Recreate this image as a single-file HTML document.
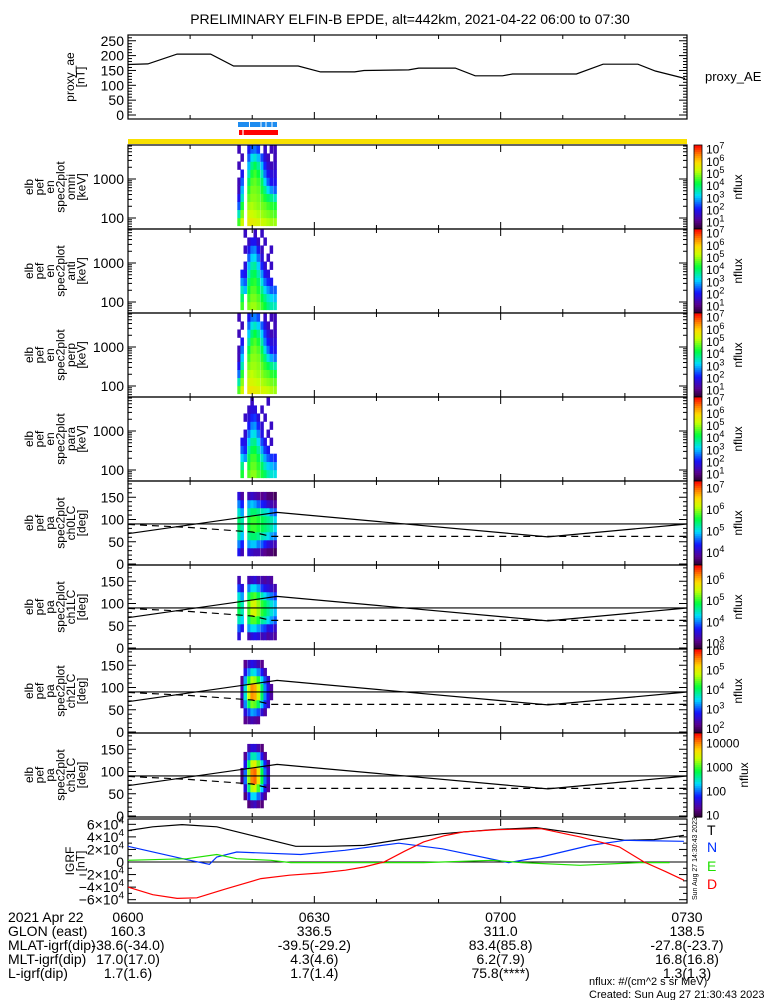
<!DOCTYPE html>
<html><head><meta charset="utf-8"><style>
html,body{margin:0;padding:0;background:#fff;}
svg{display:block;font-family:"Liberation Sans",sans-serif;}
text{font-size:12px;fill:#000;}
</style></head><body>
<svg id="chart" width="775" height="1000" viewBox="0 0 775 1000" xmlns="http://www.w3.org/2000/svg">
<text x="410" y="24" text-anchor="middle" style="font-size:14px">PRELIMINARY ELFIN-B EPDE, alt=442km, 2021-04-22 06:00 to 07:30</text>
</svg>
<script>
const N=null;
// proxy AE (minutes after 06:00, nT)
const aeMin=[0,3.2,7.9,13.3,17,27.4,31,36.5,38,45.2,46.8,52.7,55.9,60.3,61.9,72.2,76.5,82.1,84.9,89.7];
const aeVal=[170,172,205,205,165,165,145,145,150,152,158,158,132,132,138,138,171,171,148,123];
// spectrogram bins
const spStart=[17.6,18.1,18.6,19.2,19.7,20.2,20.7,21.3,21.8,22.3,22.8,23.4];
const spWidth=0.52;
const enEdges=[63,101,163,262,421,677,1090,1750,2820,4530,7280];
const paEdges=[0,18,36,54,72,90,108,126,144,162,180];
const omni=[
[4.5,5.3,N,5.6,5.6,5.5,5.4,5.3,5.2,5.1,5.0,5.0],
[3.5,4.8,N,5.3,5.3,5.2,5.1,5.0,4.9,4.8,4.7,4.6],
[2.5,4.3,N,5.0,5.1,5.0,4.9,4.8,4.7,4.5,4.4,4.3],
[2.0,3.5,N,4.7,4.9,4.9,4.8,4.6,4.3,4.0,3.8,3.5],
[1.5,3.0,N,4.4,4.8,4.8,4.7,4.3,3.8,3.2,2.8,2.5],
[1.5,2.5,N,4.0,4.6,4.7,4.5,4.0,3.2,2.5,2.0,2.0],
[N,2.0,N,3.5,4.3,4.5,4.2,3.5,2.6,2.0,1.8,1.8],
[1.5,N,N,3.0,3.8,4.1,3.7,3.0,2.2,1.7,1.5,1.6],
[N,1.5,N,2.5,3.2,3.4,3.0,2.4,1.8,1.5,N,1.5],
[1.5,N,N,2.0,2.5,2.6,2.3,N,1.6,N,1.5,1.5]];
const anti=[
[N,4.5,N,4.8,5.0,5.0,4.8,4.5,4.2,3.8,3.6,3.5],
[N,4.0,N,4.5,4.8,4.8,4.6,4.2,3.8,3.4,3.2,3.0],
[N,3.5,3.0,4.2,4.6,4.6,4.3,3.8,3.2,2.8,2.5,2.5],
[N,2.8,2.5,3.9,4.3,4.4,4.0,3.3,2.6,2.2,2.0,N],
[N,2.2,2.0,3.5,4.0,4.1,3.6,2.8,2.0,1.8,N,N],
[N,N,1.8,3.0,3.6,3.7,3.1,2.2,1.7,N,1.6,N],
[N,N,N,2.5,3.1,3.2,2.6,1.8,N,1.6,N,N],
[N,N,1.6,2.0,2.6,2.7,2.0,1.6,N,N,1.6,N],
[N,N,N,1.6,2.0,2.0,1.6,N,1.6,N,N,N],
[N,N,1.6,N,N,1.6,N,1.6,N,N,N,N]];
const perp=[
[4.6,5.4,N,5.7,5.7,5.6,5.5,5.4,5.3,5.2,5.1,5.0],
[3.6,4.9,N,5.4,5.4,5.3,5.2,5.1,5.0,4.9,4.8,4.7],
[2.6,4.4,N,5.1,5.2,5.1,5.0,4.9,4.7,4.6,4.4,4.3],
[2.0,3.6,N,4.8,5.0,5.0,4.9,4.7,4.4,4.1,3.8,3.6],
[1.5,3.1,N,4.5,4.9,4.9,4.8,4.4,3.9,3.3,2.9,2.6],
[1.5,2.6,N,4.1,4.7,4.8,4.6,4.1,3.3,2.6,2.1,2.0],
[N,2.0,N,3.6,4.4,4.6,4.3,3.6,2.7,2.1,1.8,1.8],
[1.5,N,N,3.1,3.9,4.2,3.8,3.1,2.3,1.8,1.5,1.6],
[N,1.5,N,2.6,3.3,3.5,3.1,2.5,1.9,1.5,N,1.5],
[1.5,N,N,2.0,2.6,2.7,2.4,N,1.6,N,1.5,1.5]];
const para=[
[N,4.3,N,4.6,4.9,4.9,4.6,4.3,4.0,3.6,3.4,3.3],
[N,3.8,N,4.3,4.7,4.7,4.4,4.0,3.5,3.1,3.0,2.8],
[N,3.2,2.8,4.0,4.5,4.5,4.1,3.5,2.9,2.5,2.3,2.2],
[N,2.5,2.2,3.6,4.1,4.2,3.7,2.9,2.3,2.0,N,N],
[N,2.0,1.9,3.1,3.7,3.8,3.2,2.4,1.9,N,1.6,N],
[N,N,1.7,2.6,3.2,3.3,2.7,1.9,N,1.6,N,N],
[N,N,N,2.1,2.7,2.8,2.2,1.7,N,N,1.6,N],
[N,N,1.6,1.8,2.2,2.3,1.8,N,1.6,N,N,N],
[N,N,N,1.6,1.8,1.8,N,1.6,N,N,N,N],
[N,N,N,N,1.6,N,N,N,N,1.6,N,N]];
const ch0=[
[N,N,N,N,N,N,N,N,N,N,N,N],
[4.3,4.0,N,4.2,4.1,4.0,4.0,3.9,3.8,3.7,3.7,3.6],
[4.7,4.4,N,4.8,4.9,4.9,4.7,4.6,4.4,4.2,4.1,4.0],
[5.2,4.9,N,5.3,5.4,5.4,5.3,5.2,5.1,5.0,4.8,4.7],
[5.4,5.2,N,5.5,5.7,5.7,5.6,5.5,5.4,5.3,5.2,5.0],
[5.4,5.2,N,5.5,5.7,5.7,5.6,5.5,5.4,5.3,5.2,5.0],
[5.1,4.8,N,5.2,5.4,5.4,5.3,5.2,5.1,5.0,4.7,4.6],
[4.7,4.4,N,4.8,4.9,4.8,4.6,4.4,4.3,4.1,4.0,3.9],
[4.2,3.9,N,4.0,4.1,4.0,3.9,3.8,3.9,3.7,3.7,3.6],
[N,N,N,N,N,N,N,N,N,N,N,N]];
const ch1=[
[N,N,N,N,N,N,N,N,N,N,N,N],
[3.5,N,N,3.3,3.5,3.6,3.5,3.3,3.4,3.2,3.3,3.2],
[3.9,3.6,N,4.1,4.3,4.3,4.1,3.9,3.8,3.5,3.6,3.4],
[4.5,4.3,N,4.7,5.1,5.1,4.9,4.6,4.5,4.3,4.1,3.9],
[4.8,4.5,N,5.1,5.5,5.6,5.3,5.0,4.8,4.6,4.4,4.2],
[4.8,4.5,N,5.1,5.5,5.6,5.3,5.0,4.8,4.6,4.4,4.2],
[4.4,4.1,N,4.7,5.0,5.1,4.8,4.5,4.3,4.1,4.0,3.8],
[3.8,3.5,N,4.0,4.3,4.3,4.1,3.8,3.6,3.5,3.4,3.3],
[3.3,N,N,3.3,3.4,3.5,3.3,3.3,3.2,3.3,3.2,N],
[N,N,N,N,N,N,N,N,N,N,N,N]];
const ch2=[
[N,N,N,N,N,N,N,N,N,N,N,N],
[N,N,2.2,2.3,2.4,2.3,2.2,N,N,N,N,N],
[N,N,2.6,3.0,3.3,3.2,3.0,2.6,2.3,N,N,N],
[N,2.2,3.2,4.0,4.5,4.4,4.0,3.4,2.9,2.5,N,N],
[N,2.4,3.6,4.8,5.5,5.4,4.8,4.0,3.2,2.7,2.3,N],
[N,2.4,3.6,4.8,5.5,5.4,4.8,4.0,3.2,2.7,2.3,N],
[N,2.2,3.3,4.2,4.7,4.6,4.2,3.5,3.0,2.5,N,N],
[N,N,2.7,3.2,3.6,3.5,3.2,2.8,2.4,N,N,N],
[N,N,2.2,2.5,2.7,2.6,2.4,2.2,N,N,N,N],
[N,N,N,N,N,N,N,N,N,N,N,N]];
const ch3=[
[N,N,N,N,N,N,N,N,N,N,N,N],
[N,N,N,1.2,1.4,1.5,1.3,1.2,N,N,N,N],
[N,N,1.2,1.8,2.3,2.3,2.0,1.6,1.3,N,N,N],
[N,N,1.6,2.6,3.3,3.4,3.0,2.3,1.7,1.3,N,N],
[N,1.2,2.0,3.2,4.0,4.1,3.6,2.8,2.0,1.5,N,N],
[N,1.2,2.0,3.2,4.0,4.1,3.6,2.8,2.0,1.5,N,N],
[N,N,1.7,2.7,3.4,3.5,3.1,2.4,1.8,1.3,N,N],
[N,N,1.3,2.0,2.5,2.5,2.2,1.7,1.3,N,N,N],
[N,N,N,1.4,1.6,1.6,1.4,1.2,N,N,N,N],
[N,N,N,N,N,N,N,N,N,N,N,N]];
// loss cone lines (deg)
const lcMin=[0,24,67.6,90];
const lcVal=[68,116,61,90];
const alcMin=[0,10,20,23,90];
const alcVal=[89,82,72,62,62];
// IGRF components (minutes, 1e3 nT)
const igT_m=[0,4,8.7,14.3,20,27,32,38,44,50.6,58.6,65.7,72.8,80,84.7,89.5];
const igT_v=[50,56,59.5,56,42,25,25,26.5,36,45,51.5,54.7,45,34.5,35.6,42.5];
const igN_m=[0,9.5,13.1,14.3,17.5,27.8,34.9,43.6,50.6,61.3,66.5,74.4,80,89.5];
const igN_v=[25,3.7,-3.7,8,16,12,18.6,30,21,-1,8,26.5,34.5,33];
const igE_m=[0,9.5,14.3,17.5,23,26.2,47.6,58.6,63.4,72.8,82.4,87.2];
const igE_v=[2.7,5.3,12,5.3,2.7,-1,-1,2.7,-1,-5.3,-1,-1];
const igD_m=[0,4,7.9,11.1,16,21.4,26,30.9,35,38,41.2,44.5,47.6,51,54,59.4,66.5,72.8,79.1,83.1,86.5,89.5];
const igD_v=[-40,-52,-58,-57,-42,-26.5,-21,-17.5,-13,-8,0,17,32,42,48,51.5,53,40,24,0,-15,-29];
const timeTicks=["0600","0630","0700","0730"];
const glon=["160.3","336.5","311.0","138.5"];
const mlat=["-38.6(-34.0)","-39.5(-29.2)","83.4(85.8)","-27.8(-23.7)"];
const mlt=["17.0(17.0)","4.3(4.6)","6.2(7.9)","16.8(16.8)"];
const lsh=["1.7(1.6)","1.7(1.4)","75.8(****)","1.3(1.3)"];

const svg=document.getElementById('chart');
const NS='http://www.w3.org/2000/svg';
const L=128,R=687;
function X(m){return L+m*(R-L)/90;}
function mk(tag,at,parent){const e=document.createElementNS(NS,tag);for(const k in at)e.setAttribute(k,at[k]);(parent||svg).appendChild(e);return e;}
function txt(s,x,y,anchor,size,fill){const t=mk('text',{x:x,y:y,'text-anchor':anchor||'start'});if(size)t.style.fontSize=size+'px';if(fill)t.style.fill=fill;t.textContent=s;return t;}
const stops=[[0,[40,0,40]],[0.1,[90,0,140]],[0.25,[20,20,255]],[0.4,[0,220,255]],[0.55,[0,255,60]],[0.7,[200,255,0]],[0.8,[255,220,0]],[0.9,[255,120,0]],[1,[255,0,0]]];
function cmap(t){t=Math.max(0,Math.min(1,t));for(let i=1;i<stops.length;i++){if(t<=stops[i][0]){const a=stops[i-1],b=stops[i];const f=(t-a[0])/(b[0]-a[0]);return 'rgb('+a[1].map((v,j)=>Math.round(v+(b[1][j]-v)*f)).join(',')+')';}}return 'rgb(255,0,0)';}

function frame(T,B,name){
  const r=mk('rect',{x:L,y:T,width:R-L,height:B-T,fill:'none',stroke:'#000','stroke-width':1.2});
  
  
  for(let m=0;m<=90;m+=10){const len=(m%30==0)?7:4;mk('line',{x1:X(m),x2:X(m),y1:B,y2:B-len,stroke:'#000'});mk('line',{x1:X(m),x2:X(m),y1:T,y2:T+len,stroke:'#000'});}
}
function polyline(ms,vs,yf,color,dash,name){
  const p=ms.map((m,i)=>X(m).toFixed(1)+','+yf(vs[i]).toFixed(1)).join(' ');
  const e=mk('polyline',{points:p,fill:'none',stroke:color,'stroke-width':1.2});
  if(dash)e.setAttribute('stroke-dasharray',dash);
  
  
  return e;
}
function ylabel(lines,cx,cy,name){
  const g=mk('g',{transform:'translate('+cx+','+cy+') rotate(-90)'});
  
  
  const n=lines.length;
  lines.forEach((s,i)=>{const t=mk('text',{x:0,y:(i-(n-1)/2)*10.5+4,'text-anchor':'middle'},g);t.textContent=s;});
}
function colorbar(T,B,lo,hi,labels,plain){
  const g=mk('g',{});
  
  
  const n=40;for(let i=0;i<n;i++){const y0=B-(i+1)*(B-T)/n;mk('rect',{x:694,y:y0,width:8,height:(B-T)/n+0.6,fill:cmap((i+0.5)/n),stroke:'none'},g);}
  mk('rect',{x:694,y:T,width:8,height:B-T,fill:'none',stroke:'#000','stroke-width':0.8},g);
  labels.forEach(e=>{const y=B-(e-lo)/(hi-lo)*(B-T)+5;const t=mk('text',{x:706,y:y},g);
    if(plain){t.textContent=String(Math.pow(10,e));}else{t.textContent='10';const s=mk('tspan',{dy:-5},t);s.style.fontSize='9px';s.textContent=String(e);}});
  const t=mk('text',{x:0,y:0,transform:'translate('+(plain?748:742)+','+((T+B)/2)+') rotate(-90)','text-anchor':'middle'},g);t.textContent='nflux';
}
function logTicks(T,B,lo,hi){
  for(let d=Math.floor(lo);d<=Math.ceil(hi);d++)for(let k=1;k<10;k++){const v=d+Math.log10(k);if(v<lo||v>hi)continue;const y=B-(v-lo)/(hi-lo)*(B-T);const len=k==1?8:4;
    mk('line',{x1:L,x2:L+len,y1:y,y2:y,stroke:'#000'});mk('line',{x1:R,x2:R-len,y1:y,y2:y,stroke:'#000'});}
}

// ===== proxy AE panel =====
const aeT=35,aeB=119;
function aeY(v){return 115-v*0.297;}
frame(aeT,aeB,'proxy-ae');
[0,50,100,150,200,250].forEach(v=>{const y=aeY(v);txt(String(v),124,y+5,'end',14);mk('line',{x1:L,x2:L+8,y1:y,y2:y,stroke:'#000'});mk('line',{x1:R,x2:R-8,y1:y,y2:y,stroke:'#000'});
  for(let k=1;k<5;k++){const yy=aeY(v+k*10);if(yy>aeT){mk('line',{x1:L,x2:L+4,y1:yy,y2:yy,stroke:'#000'});mk('line',{x1:R,x2:R-4,y1:yy,y2:yy,stroke:'#000'});}}});
polyline(aeMin,aeVal,aeY,'#000',null,'proxy-ae-line');
ylabel(['proxy_ae','[nT]'],75,77,'proxy-ae-axis-title');
txt('proxy_AE',705,81,'start',13);

// state bars
const b1=mk('rect',{x:238,y:122,width:39,height:5,fill:'#1e8cf0'});
[249.5,261,266,272].forEach(x=>mk('line',{x1:x,x2:x,y1:121,y2:128,stroke:'#fff','stroke-width':1}));
const b2=mk('rect',{x:239,y:130,width:39,height:5,fill:'#f00'});
mk('line',{x1:243,x2:243,y1:129,y2:136,stroke:'#fff','stroke-width':1.2});
const yb=mk('rect',{x:L,y:139,width:R-L,height:5,fill:'#f8e000'});

// ===== energy spectrograms =====
const specPanels=[[omni,'omni'],[anti,'anti'],[perp,'perp'],[para,'para']];
specPanels.forEach((p,pi)=>{
  const T=145+pi*84,B=T+84;const lo=1.718,hi=3.872;
  const eY=v=>B-(Math.log10(v)-lo)/(hi-lo)*(B-T);
  const g=mk('g',{});
  const cLo=0.4,cHi=7.3;
  p[0].forEach((row,ri)=>row.forEach((v,ci)=>{if(v===null)return;const x0=X(spStart[ci]),x1=X(spStart[ci]+spWidth);const y0=eY(enEdges[ri+1]),y1=eY(enEdges[ri]);
    const c=mk('rect',{x:x0,y:y0,width:x1-x0+0.3,height:y1-y0+0.3,fill:cmap((v-cLo)/(cHi-cLo))},g);
    }));
  frame(T,B,'spec-'+p[1]);logTicks(T,B,lo,hi);
  txt('1000',124,eY(1000)+5,'end',14);txt('100',124,eY(100)+5,'end',14);
  ylabel(['elb','pef','en','spec2plot',p[1],'[keV]'],55,(T+B)/2,'spec-'+p[1]+'-axis-title');
  colorbar(T,B,cLo,cHi,[1,2,3,4,5,6,7],false);
});

// ===== pitch angle panels =====
const paPanels=[[ch0,'ch0LC',3.4,7.3,[4,5,6,7],false],[ch1,'ch1LC',2.7,6.65,[3,4,5,6],false],[ch2,'ch2LC',1.75,6.05,[2,3,4,5,6],false],[ch3,'ch3LC',0.9,4.4,[1,2,3,4],true]];
paPanels.forEach((p,pi)=>{
  const T=481+pi*84,B=T+84;const pY=d=>B-1-d*0.445;
  const g=mk('g',{});
  p[0].forEach((row,ri)=>row.forEach((v,ci)=>{if(v===null)return;const x0=X(spStart[ci]),x1=X(spStart[ci]+spWidth);const y0=pY(paEdges[ri+1]),y1=pY(paEdges[ri]);
    const c=mk('rect',{x:x0,y:y0,width:x1-x0+0.3,height:y1-y0+0.3,fill:cmap((v-p[2])/(p[3]-p[2]))},g);
    }));
  frame(T,B,'pa-'+p[1]);
  for(let d=0;d<=180;d+=10){const y=pY(d);if(y<T)continue;const len=d%50==0?8:4;mk('line',{x1:L,x2:L+len,y1:y,y2:y,stroke:'#000'});mk('line',{x1:R,x2:R-len,y1:y,y2:y,stroke:'#000'});}
  [0,50,100,150].forEach(d=>txt(String(d),124,pY(d)+5,'end',14));
  const h=mk('line',{x1:L,x2:R,y1:pY(90),y2:pY(90),stroke:'#000','stroke-width':1.2});
  polyline(lcMin,lcVal,pY,'#000',null,'loss-cone-line');
  polyline(alcMin,alcVal,pY,'#000','7,5','anti-loss-cone-line');
  ylabel(['elb','pef','pa','spec2plot',p[1],'[deg]'],55,(T+B)/2,'pa-'+p[1]+'-axis-title');
  colorbar(T,B,p[2],p[3],p[4],p[5]);
});

// ===== IGRF panel =====
const iT=819,iB=903;const iY=v=>862-v*0.628;
frame(iT,iB,'igrf');
for(let v=-60;v<=60;v+=10){const y=iY(v);if(y>iB||y<iT)continue;const len=v%20==0?8:4;mk('line',{x1:L,x2:L+len,y1:y,y2:y,stroke:'#000'});mk('line',{x1:R,x2:R-len,y1:y,y2:y,stroke:'#000'});}
[-6,-4,-2,2,4,6].forEach(k=>{const t=txt('',124,iY(k*10)+5,'end',14);t.textContent=(k<0?'\u2212':'')+Math.abs(k)+'\u00d710';const s=mk('tspan',{dy:-6},t);s.style.fontSize='10px';s.textContent='4';});
txt('0',124,iY(0)+5,'end',14);
const z=mk('line',{x1:L,x2:R,y1:iY(0),y2:iY(0),stroke:'#000'});
polyline(igT_m,igT_v,iY,'#000',null,'igrf-total');
polyline(igN_m,igN_v,iY,'#0030ff',null,'igrf-north');
polyline(igE_m,igE_v,iY,'#20e000',null,'igrf-east');
polyline(igD_m,igD_v,iY,'#ff0000',null,'igrf-down');
ylabel(['IGRF','[nT]'],75,861,'igrf-axis-title');
[['T','#000',831],['N','#0030ff',848],['E','#20e000',867],['D','#ff0000',885]].forEach(a=>{const t=txt(a[0],707,a[2]+4,'start',14,a[1]);});
const st=mk('text',{transform:'translate(697,900) rotate(-90)'});st.style.fontSize='7px';st.textContent='Sun Aug 27 14:30:43 2023';

// ===== bottom annotation =====
const rows=[['2021 Apr 22',timeTicks],['GLON (east)',glon],['MLAT-igrf(dip)',mlat],['MLT-igrf(dip)',mlt],['L-igrf(dip)',lsh]];
rows.forEach((r,ri)=>{const y=922+ri*14;const t=txt(r[0],8,y,'start',14);
  r[1].forEach((s,i)=>{txt(s,X(i*30),y,'middle',14);});});
txt('nflux: #/(cm^2 s sr MeV)',589,985,'start',11);
txt('Created: Sun Aug 27 21:30:43 2023',589,998,'start',11);
</script>
</body></html>
